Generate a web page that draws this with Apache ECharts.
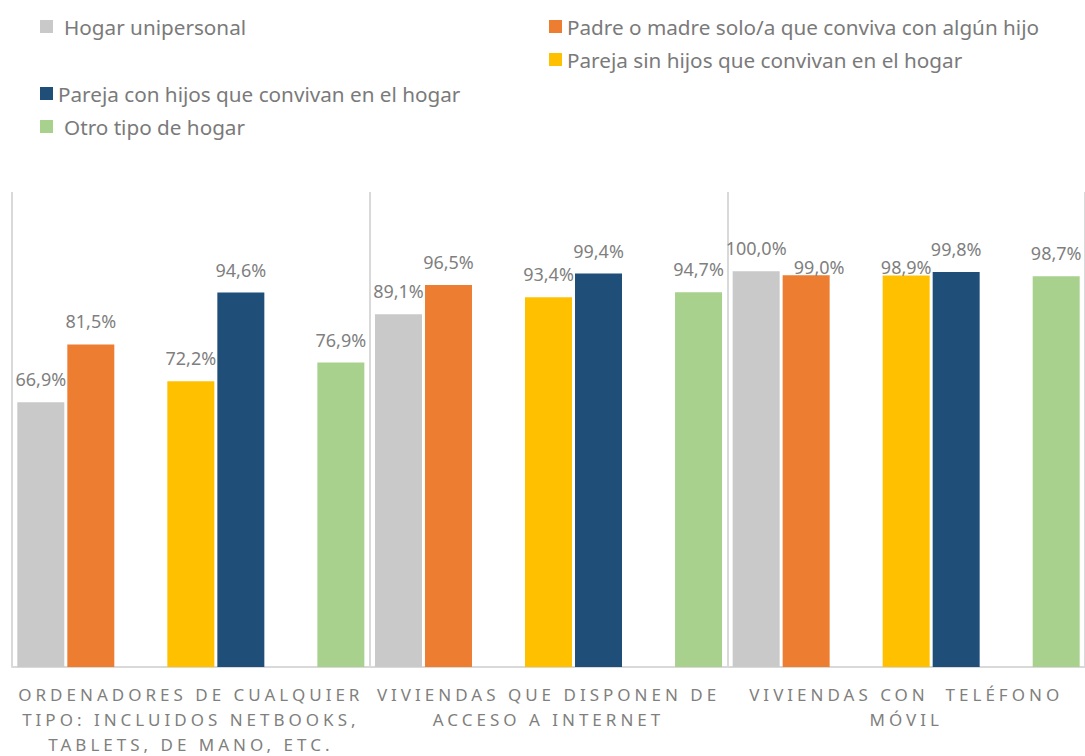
<!DOCTYPE html>
<html>
<head>
<meta charset="utf-8">
<script src="https://cdn.jsdelivr.net/npm/echarts@6/dist/echarts.min.js"></script>
<style>
  html, body { margin: 0; padding: 0; background: #fff; }
  #chart { width: 1085px; height: 756px; }
  /* letter spacing for the category labels (svg renderer) */
  #chart text[fill="#7f7f7e"], #chart text[style*="#7f7f7e"] { letter-spacing: 4px; }
</style>
</head>
<body>
<div id="chart"></div>
<script>
// categorias (con saltos de linea como en el original)
const categories = [
  'ORDENADORES DE CUALQUIER\nTIPO: INCLUIDOS NETBOOKS,\nTABLETS, DE MANO, ETC.',
  'VIVIENDAS QUE DISPONEN DE\nACCESO A INTERNET',
  'VIVIENDAS CON  TELÉFONO\nMÓVIL'
];
const hogarUnipersonal = [66.9, 89.1, 100.0];
const padreMadreSolo = [81.5, 96.5, 99.0];
const parejaSinHijos = [72.2, 93.4, 98.9];
const parejaConHijos = [94.6, 99.4, 99.8];
const otroTipo = [76.9, 94.7, 98.7];

const chart = echarts.init(document.getElementById('chart'), null, { renderer: 'svg' });

const fmt = p => p.value.toFixed(1).replace('.', ',') + '%';
const labelStyle = {
  show: true,
  position: 'top',
  distance: 14,
  fontFamily: 'Noto Sans',
  fontSize: 18,
  lineHeight: 18,
  color: '#7f7f7f',
  formatter: fmt
};

// algunos rotulos estan desplazados a mano en el original
function withOffsets(values, offsets) {
  return values.map((v, i) => offsets[i] ? { value: v, label: { offset: offsets[i] } } : v);
}

function barSeries(name, color, data) {
  return {
    name: name,
    type: 'bar',
    barWidth: 47,
    barGap: '6.4%',
    itemStyle: { color: color },
    label: labelStyle,
    data: data
  };
}

const legendText = { fontFamily: 'Noto Sans', fontSize: 20.7, color: '#7a7a7a' };
function legendAt(name, left, top, pad) {
  return {
    data: [name],
    left: left,
    top: top,
    padding: 0,
    itemWidth: 13,
    itemHeight: 13,
    icon: 'rect',
    selectedMode: false,
    textStyle: Object.assign({ padding: [0, 0, 0, pad] }, legendText)
  };
}

const option = {
  animation: false,
  legend: [
    legendAt('Hogar unipersonal', 40, 16, 6),
    legendAt('Padre o madre solo/a que conviva con algún hijo', 549, 16, 0),
    legendAt('Pareja sin hijos que convivan en el hogar', 549, 49, 0),
    legendAt('Pareja con hijos que convivan en el hogar', 40, 83, 0),
    legendAt('Otro tipo de hogar', 40, 116, 6)
  ],
  grid: { left: 12, right: 0, top: 192, bottom: 89, outerBoundsMode: 'none', containLabel: false },
  xAxis: {
    type: 'category',
    data: categories,
    axisLine: { lineStyle: { color: '#d9d9d9', width: 2 } },
    axisTick: { show: false },
    splitLine: { show: true, lineStyle: { color: '#d9d9d9', width: 2 } },
    axisLabel: {
      margin: 15,
      fontFamily: 'Noto Sans',
      fontSize: 17,
      lineHeight: 25,
      color: '#7f7f7e',
      interval: 0
    }
  },
  yAxis: {
    type: 'value',
    min: 0,
    max: 120,
    show: false
  },
  series: [
    barSeries('Hogar unipersonal', '#c9c9c9', hogarUnipersonal),
    barSeries('Padre o madre solo/a que conviva con algún hijo', '#ed7d31',
      withOffsets(padreMadreSolo, [null, null, [13, 15]])),
    barSeries('', '#ffffff', ['-', '-', '-']),
    barSeries('Pareja sin hijos que convivan en el hogar', '#ffc000',
      withOffsets(parejaSinHijos, [null, null, [0, 14.5]])),
    barSeries('Pareja con hijos que convivan en el hogar', '#1f4e79', parejaConHijos),
    barSeries(' ', '#ffffff', ['-', '-', '-']),
    barSeries('Otro tipo de hogar', '#a9d18e', otroTipo)
  ]
};

chart.setOption(option);
</script>
</body>
</html>
